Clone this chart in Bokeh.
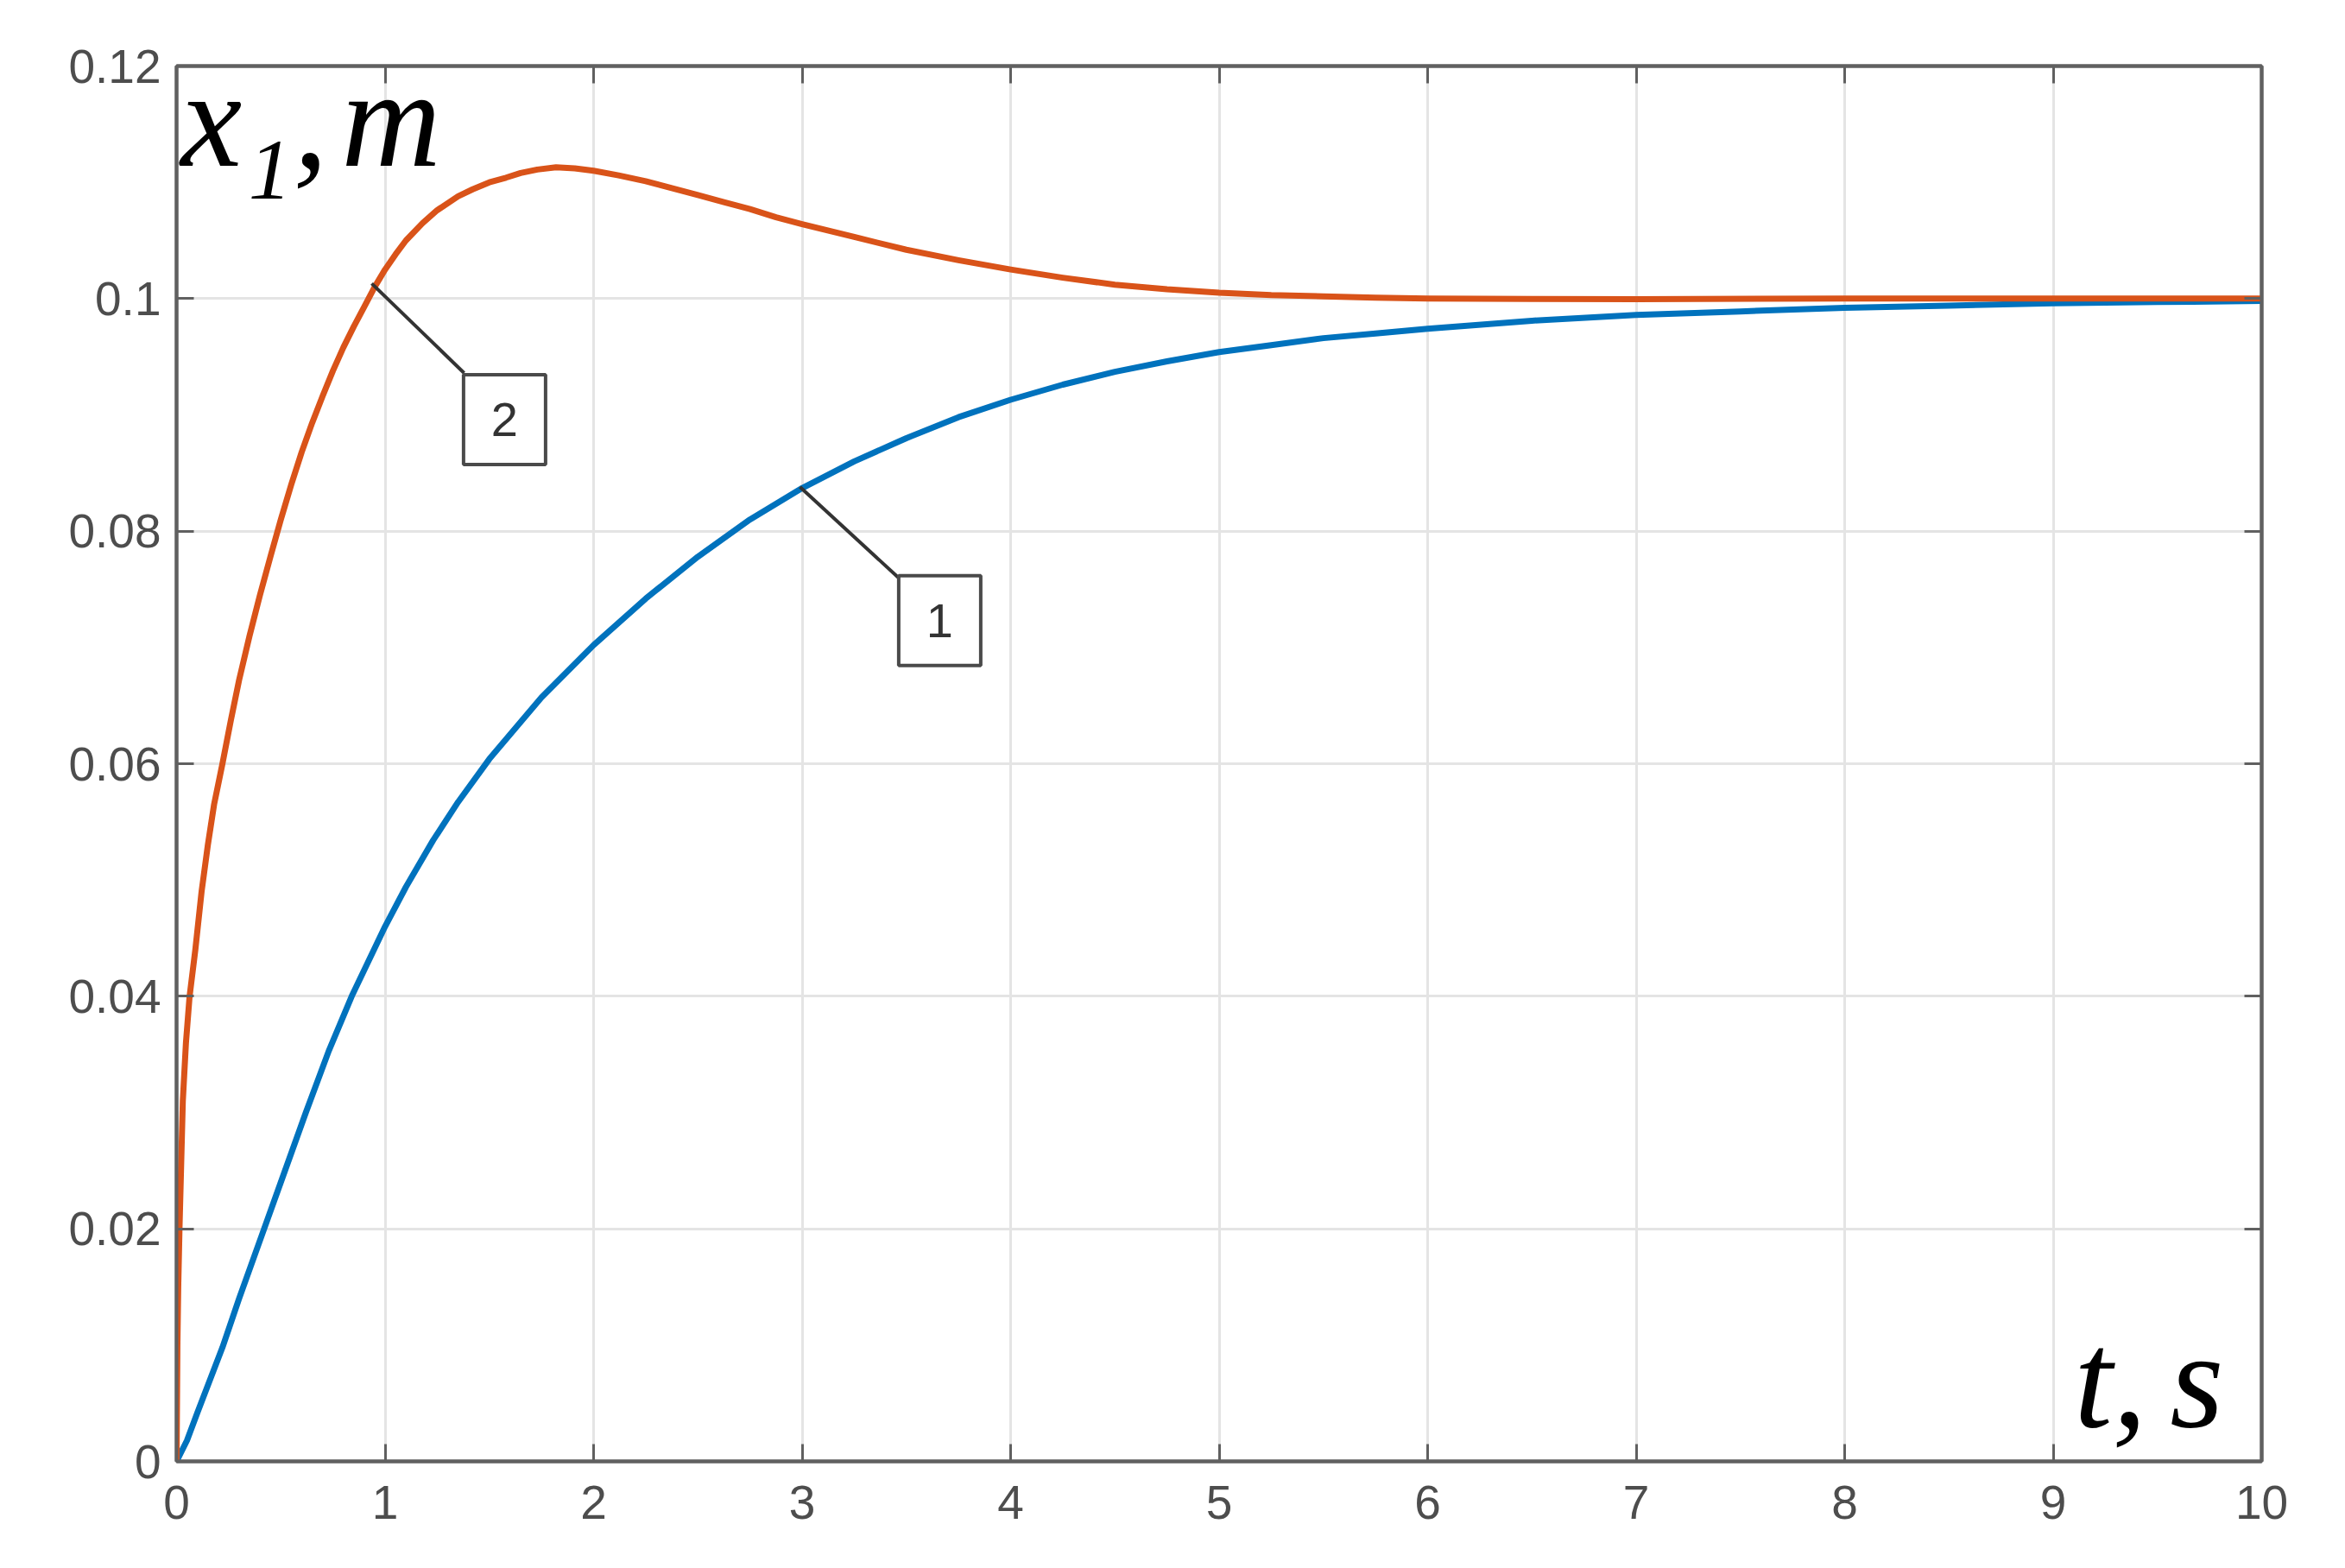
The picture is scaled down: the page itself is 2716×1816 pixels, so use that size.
from bokeh.plotting import figure
from bokeh.models import Range1d, FixedTicker, LinearAxis, CustomJSTickFormatter, Label
from bokeh.embed import file_html
from bokeh.resources import INLINE
from bokeh.core.properties import value

# ---- data ----
t_curve1 = [0, 0.05, 0.1, 0.22, 0.3, 0.42, 0.5, 0.62, 0.73, 0.84, 1.0, 1.1, 1.23, 1.35,
            1.5, 1.75, 2.0, 2.25, 2.5, 2.75, 3.0, 3.25, 3.5, 3.75, 4.0, 4.25, 4.5, 4.75,
            5.0, 5.25, 5.5, 5.75, 6.0, 6.5, 7.0, 7.5, 8.0, 8.5, 9.0, 9.5, 10.0]
x1_curve1 = [0, 0.0018, 0.0042, 0.0098, 0.0140, 0.0200, 0.0240, 0.0300, 0.0353, 0.0400,
             0.0460, 0.0494, 0.0534, 0.0567, 0.0604, 0.0657, 0.0702, 0.0742, 0.0778,
             0.0810, 0.0837, 0.0860, 0.0880, 0.0898, 0.0913, 0.0926, 0.0937, 0.0946,
             0.0954, 0.0960, 0.0966, 0.0970, 0.0974, 0.0981, 0.0986, 0.0989, 0.0992,
             0.0994, 0.0996, 0.0997, 0.0998]

t_curve2 = [0, 0.004, 0.008, 0.014, 0.03, 0.045, 0.0625, 0.09, 0.12, 0.15, 0.18, 0.22,
            0.26, 0.3, 0.35, 0.4, 0.45, 0.5, 0.55, 0.6, 0.65, 0.7, 0.75, 0.8, 0.85, 0.9,
            0.95, 1.0, 1.05, 1.1, 1.18, 1.25, 1.35, 1.42, 1.5, 1.58, 1.65, 1.73, 1.82,
            1.91, 2.0, 2.12, 2.25, 2.375, 2.5, 2.625, 2.75, 2.875, 3.0, 3.25, 3.5, 3.75,
            4.0, 4.25, 4.5, 4.75, 5.0, 5.25, 5.5, 5.75, 6.0, 6.5, 7.0, 8.0, 9.0, 10.0]
x1_curve2 = [0, 0.0100, 0.0150, 0.0200, 0.0310, 0.0360, 0.0400, 0.0440, 0.0490, 0.0530,
             0.0565, 0.0600, 0.0637, 0.0672, 0.0710, 0.0745, 0.0778, 0.0810, 0.0840,
             0.0868, 0.0893, 0.0916, 0.0938, 0.0958, 0.0976, 0.0993, 0.1010, 0.1025,
             0.1038, 0.1050, 0.1065, 0.1076, 0.1088, 0.1094, 0.1100, 0.1104, 0.1108,
             0.1111, 0.1113, 0.1112, 0.1110, 0.1106, 0.1101, 0.1095, 0.1089, 0.1083,
             0.1077, 0.1070, 0.1064, 0.1053, 0.1042, 0.1033, 0.1025, 0.1018, 0.1012,
             0.1008, 0.1005, 0.1003, 0.1002, 0.10008, 0.1000, 0.09997, 0.09995, 0.1000,
             0.1000, 0.1000]

x_ticks = [0, 1, 2, 3, 4, 5, 6, 7, 8, 9, 10]
x_tick_labels = ["0", "1", "2", "3", "4", "5", "6", "7", "8", "9", "10"]
y_ticks = [0, 0.02, 0.04, 0.06, 0.08, 0.1, 0.12]
y_tick_labels = ["0", "0.02", "0.04", "0.06", "0.08", "0.1", "0.12"]

curve_ids = ["1", "2"]
anchor_t = [2.99, 0.936]      # point on curve where leader starts
anchor_x1 = [0.0838, 0.1013]
corner_t = [3.462, 1.379]     # box corner where leader ends
corner_x1 = [0.0760, 0.0936]
box_t = [3.66, 1.573]         # box centres
box_x1 = [0.0723, 0.0896]

BLUE = "#0072BD"
ORANGE = "#D95319"
FRAME = "#606060"
TICKTXT = "#4d4d4d"
GRID = "#e4e4e4"

p = figure(width=2700, height=1800, output_backend="svg", toolbar_location=None,
           x_range=Range1d(0, 10), y_range=Range1d(0, 0.12),
           min_border_left=204, min_border_right=81, min_border_top=76, min_border_bottom=108,
           background_fill_color="white", border_fill_color="white")

p.outline_line_color = FRAME
p.outline_line_width = 4

xt = FixedTicker(ticks=x_ticks)
yt = FixedTicker(ticks=y_ticks)

for ax, tk, labs, ticks in ((p.xaxis[0], xt, x_tick_labels, x_ticks),
                            (p.yaxis[0], yt, y_tick_labels, y_ticks)):
    ax.ticker = tk
    ax.major_label_overrides = {tv: lab for tv, lab in zip(ticks, labs)}
    ax.major_tick_in = 20
    ax.major_tick_out = 0
    ax.minor_tick_in = 0
    ax.minor_tick_out = 0
    ax.major_tick_line_color = FRAME
    ax.major_tick_line_width = 3
    ax.axis_line_color = FRAME
    ax.axis_line_width = 4
    ax.major_label_text_font = "Liberation Sans"
    ax.major_label_text_font_size = "55px"
    ax.major_label_text_color = TICKTXT

p.xaxis[0].major_label_standoff = 28
p.yaxis[0].major_label_standoff = 18

for loc, tk in (("above", xt), ("right", yt)):
    ax = LinearAxis(ticker=tk, formatter=CustomJSTickFormatter(code="return ''"))
    ax.major_label_text_font_size = "0px"
    ax.major_tick_in = 20
    ax.major_tick_out = 0
    ax.minor_tick_in = 0
    ax.minor_tick_out = 0
    ax.major_tick_line_color = FRAME
    ax.major_tick_line_width = 3
    ax.axis_line_color = FRAME
    ax.axis_line_width = 4
    p.add_layout(ax, loc)

p.xgrid.ticker = xt
p.ygrid.ticker = yt
p.xgrid.grid_line_color = GRID
p.ygrid.grid_line_color = GRID
p.xgrid.grid_line_width = 3
p.ygrid.grid_line_width = 3

p.line(t_curve1, x1_curve1, line_color=BLUE, line_width=7, line_join="round", line_cap="round")
p.line(t_curve2, x1_curve2, line_color=ORANGE, line_width=7, line_join="round", line_cap="round")

# callouts
p.segment(x0=anchor_t, y0=anchor_x1, x1=corner_t, y1=corner_x1, line_color="#333333", line_width=4)
p.rect(x=box_t, y=box_x1, width=95, height=104, width_units="screen", height_units="screen",
       fill_color="white", line_color="#4a4a4a", line_width=4)
p.text(x=box_t, y=box_x1, text=curve_ids, text_align="center", text_baseline="middle",
       text_font=value("Liberation Sans"), text_font_size="56px", text_color="#333333")

# axis titles
serif = "Liberation Serif"
def title_part(x, y, txt, size):
    p.add_layout(Label(x=x, y=y, text=txt, text_font=serif, text_font_style="italic",
                       text_font_size=size, text_color="black", text_baseline="alphabetic"))

title_part(0.02, 0.1154, "x", "160px")
title_part(0.345, 0.1110, "1", "100px")
title_part(0.56, 0.1152, ",", "160px")
title_part(0.79, 0.1154, "m", "160px")
title_part(9.10, 0.0070, "t,", "160px")
title_part(9.56, 0.0070, "s", "160px")

open("out.html", "w").write(file_html(p, INLINE))
